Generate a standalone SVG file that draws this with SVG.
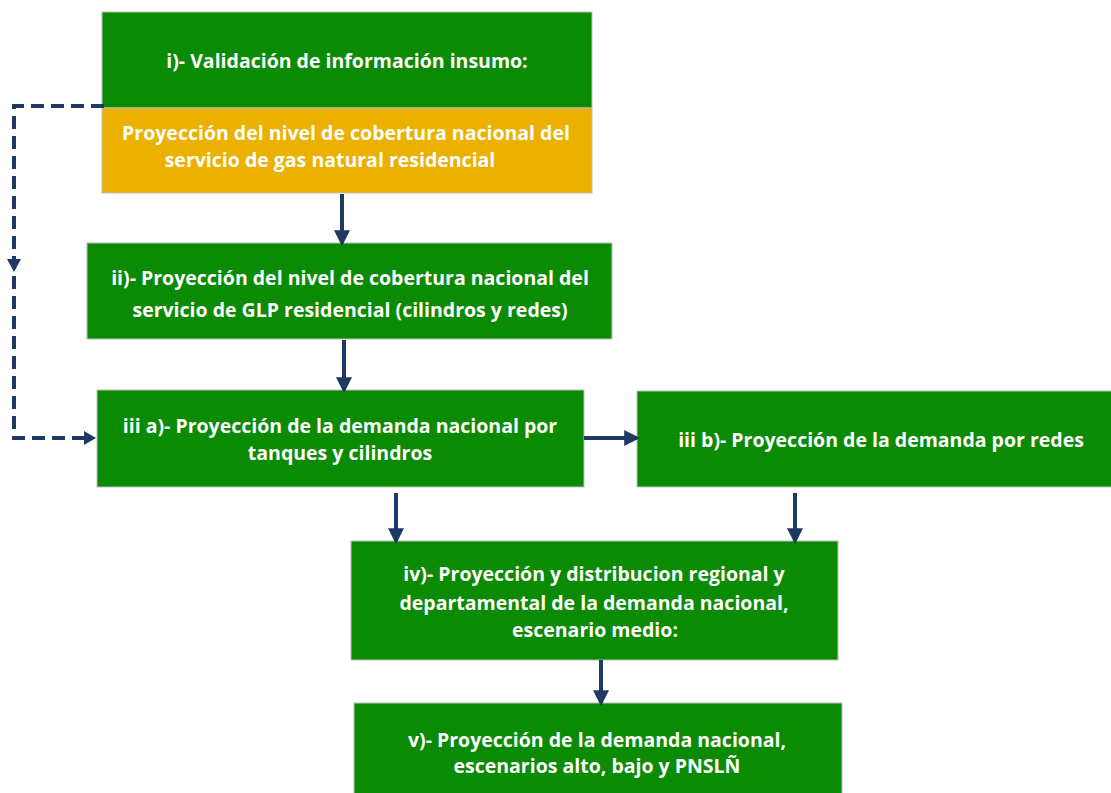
<svg xmlns="http://www.w3.org/2000/svg" width="1111" height="793" viewBox="0 0 1111 793">
<defs>
<style>
.box{fill:#0b8a04;stroke:#bfbfbf;stroke-width:1}
.orange{fill:#ebb000;stroke:#bfbfbf;stroke-width:1}
.t{font-family:"Open Sans",Lato,"Liberation Sans",sans-serif;font-weight:700;font-size:19.5px;fill:#ffffff;text-anchor:middle}
.c{stroke:#1f3864;stroke-width:4;fill:none}
.d{stroke:#1f3864;stroke-width:4;fill:none;stroke-dasharray:13 7}
.h{fill:#1f3864}
</style>
<marker id="ah" markerWidth="4" markerHeight="4" refX="3.2" refY="2" orient="auto" markerUnits="strokeWidth" viewBox="0 0 4 4">
<path d="M0,0 L4,2 L0,4 z" class="h"/>
</marker>
</defs>
<rect width="1111" height="793" fill="#ffffff"/>
<g id="node-i">
<rect class="box" x="102" y="12" width="490" height="96"/>
<text class="t" x="347" y="68">i)- Validación de información insumo:</text>
</g>
<g id="node-i-orange">
<rect class="orange" x="102" y="108" width="490" height="85"/>
<text class="t" x="346" y="140">Proyección del nivel de cobertura nacional del</text>
<text class="t" x="330" y="167">servicio de gas natural residencial</text>
</g>
<g id="node-ii">
<rect class="box" x="87" y="243" width="525" height="96"/>
<text class="t" x="350" y="285">ii)- Proyección del nivel de cobertura nacional del</text>
<text class="t" x="350" y="317">servicio de GLP residencial (cilindros y redes)</text>
</g>
<g id="node-iiia">
<rect class="box" x="97" y="390" width="487" height="97"/>
<text class="t" x="340" y="433">iii a)- Proyección de la demanda nacional por</text>
<text class="t" x="340" y="460">tanques y cilindros</text>
</g>
<g id="node-iiib">
<rect class="box" x="637" y="391" width="480" height="96"/>
<text class="t" x="881" y="447">iii b)- Proyección de la demanda por redes</text>
</g>
<g id="node-iv">
<rect class="box" x="351" y="541" width="487" height="119"/>
<text class="t" x="594" y="581">iv)- Proyección y distribucion regional y</text>
<text class="t" x="594" y="610">departamental de la demanda nacional,</text>
<text class="t" x="595" y="637">escenario medio:</text>
</g>
<g id="node-v">
<rect class="box" x="354" y="703" width="488" height="100"/>
<text class="t" x="597" y="747">v)- Proyección de la demanda nacional,</text>
<text class="t" x="597" y="773">escenarios alto, bajo y PNSLÑ</text>
</g>
<g id="connectors">
<line class="c" x1="342" y1="194" x2="342" y2="243" marker-end="url(#ah)"/>
<line class="c" x1="344" y1="340" x2="344" y2="390" marker-end="url(#ah)"/>
<line class="c" x1="584" y1="438" x2="637" y2="438" marker-end="url(#ah)"/>
<line class="c" x1="396" y1="493" x2="396" y2="541" marker-end="url(#ah)"/>
<line class="c" x1="795" y1="493" x2="795" y2="541" marker-end="url(#ah)"/>
<line class="c" x1="601" y1="660" x2="601" y2="703" marker-end="url(#ah)"/>
<path class="d" d="M104,106 H14 V438 H90"/>
<polygon class="h" points="96,438 84,431 84,445"/>
<polygon class="h" points="14,272 7,259 21,259"/>
</g>
</svg>
